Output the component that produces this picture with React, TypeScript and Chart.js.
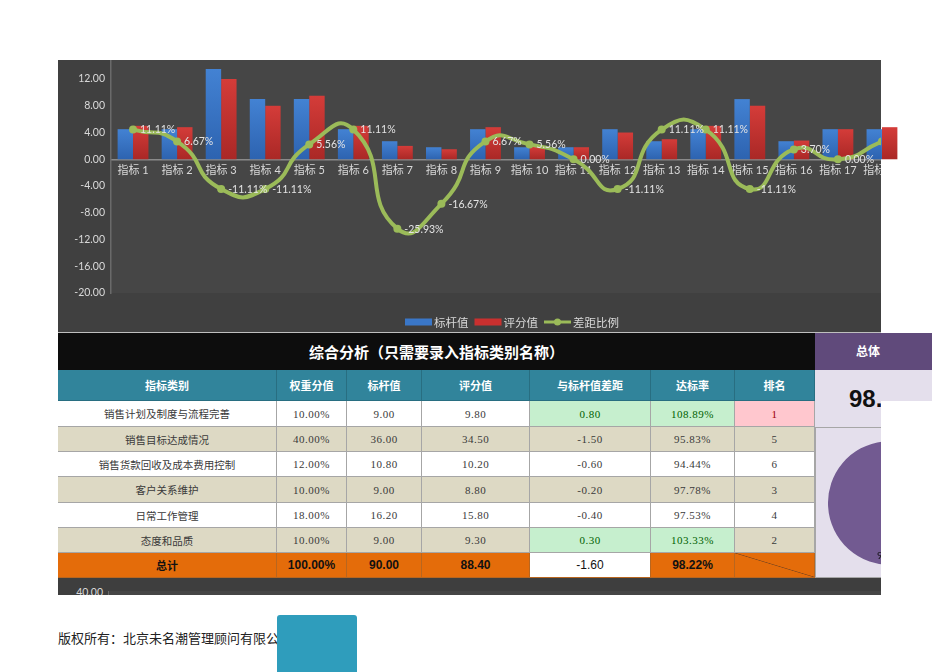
import React, { useEffect, useRef } from "react";
import { Chart, registerables } from "chart.js";

Chart.register(...registerables);

// ---------- chart data ----------
const categories = [
  "指标 1", "指标 2", "指标 3", "指标 4", "指标 5", "指标 6", "指标 7", "指标 8", "指标 9",
  "指标 10", "指标 11", "指标 12", "指标 13", "指标 14", "指标 15", "指标 16", "指标 17", "指标 18",
];
const benchmarkValues = [4.5, 4.5, 13.5, 9.0, 9.0, 4.5, 2.7, 1.8, 4.5, 1.8, 1.8, 4.5, 2.7, 4.5, 9.0, 2.7, 4.5, 4.5];
const scoreValues = [5.0, 4.8, 12.0, 8.0, 9.5, 5.0, 2.0, 1.5, 4.8, 1.9, 1.8, 4.0, 3.0, 5.0, 8.0, 2.8, 4.5, 4.8];
const gapRatios = [11.11, 6.67, -11.11, -11.11, 5.56, 11.11, -25.93, -16.67, 6.67, 5.56, 0.0, -11.11, 11.11, 11.11, -11.11, 3.7, 0.0, 6.67];
const seriesNames = ["标杆值", "评分值", "差距比例"];
const yAxisMin = -20;
const yAxisMax = 16;
const yAxisStep = 4;
const y2AxisMin = -50;
const y2AxisMax = 40;

// ---------- table data ----------
const tableTitle = "综合分析（只需要录入指标类别名称）";
const tableHeaders = ["指标类别", "权重分值", "标杆值", "评分值", "与标杆值差距", "达标率", "排名"];
const tableCategories = ["销售计划及制度与流程完善", "销售目标达成情况", "销售货款回收及成本费用控制", "客户关系维护", "日常工作管理", "态度和品质"];
const tableWeights = ["10.00%", "40.00%", "12.00%", "10.00%", "18.00%", "10.00%"];
const tableBenchmarks = ["9.00", "36.00", "10.80", "9.00", "16.20", "9.00"];
const tableScores = ["9.80", "34.50", "10.20", "8.80", "15.80", "9.30"];
const tableGaps = ["0.80", "-1.50", "-0.60", "-0.20", "-0.40", "0.30"];
const tableRates = ["108.89%", "95.83%", "94.44%", "97.78%", "97.53%", "103.33%"];
const tableRanks = ["1", "5", "6", "3", "4", "2"];
const totalRow = ["总计", "100.00%", "90.00", "88.40", "-1.60", "98.22%", ""];
const overallLabel = "总体";
const overallRate = 98.22;
const nextChartTick = "40.00";
const footerText = "版权所有：北京未名潮管理顾问有限公司";

// ---------- styles ----------
const FONT = "Lato, 'Noto Sans CJK SC', sans-serif";
const CJK = "'Noto Sans CJK SC', sans-serif";
const SERIF = "'Liberation Serif', 'Noto Sans CJK SC', serif";
const SANS = "'Liberation Sans', 'Noto Sans CJK SC', sans-serif";
const BLUE = "#3a77c8";
const RED = "#c9302f";
const GREEN = "#9bbb59";
const LABEL = "#d9d9d9";
const PANEL_W = 823; // visible width of the dark chart panel

function barGradient(top: string, bottom: string) {
  return (c: any) => {
    const chart = c.chart;
    const ys = chart.scales && chart.scales.y;
    if (!chart.chartArea || !ys || c.raw == null) return top;
    const yTop = ys.getPixelForValue(c.raw);
    const yZero = ys.getPixelForValue(0);
    if (!isFinite(yTop) || !isFinite(yZero) || yTop === yZero) return top;
    const g = chart.ctx.createLinearGradient(0, yTop, 0, yZero);
    g.addColorStop(0, top);
    g.addColorStop(1, bottom);
    return g;
  };
}

const bgPlugin = {
  id: "bgPlugin",
  beforeDraw(chart: any) {
    const { ctx, chartArea } = chart;
    ctx.save();
    ctx.fillStyle = "#404040";
    ctx.fillRect(0, 0, PANEL_W, chart.height);
    ctx.fillStyle = "#464646";
    ctx.fillRect(chartArea.left, 0, PANEL_W - chartArea.left, chartArea.bottom);
    ctx.restore();
    // clip the scales (drawn next) to the panel
    ctx.save();
    ctx.beginPath();
    ctx.rect(0, 0, PANEL_W, chart.height);
    ctx.clip();
  },
  beforeDatasetsDraw(chart: any) {
    chart.ctx.restore();
  },
};

const pointLabelPlugin = {
  id: "pointLabelPlugin",
  afterDatasetsDraw(chart: any) {
    const ctx = chart.ctx;
    const meta = chart.getDatasetMeta(2);
    const data = chart.data.datasets[2].data as number[];
    ctx.save();
    ctx.beginPath();
    ctx.rect(0, 0, PANEL_W, chart.height);
    ctx.clip();
    ctx.font = `10.5px ${FONT}`;
    ctx.fillStyle = "#e4e4e4";
    ctx.textAlign = "left";
    ctx.textBaseline = "middle";
    meta.data.forEach((pt: any, i: number) => {
      ctx.fillText(`${data[i].toFixed(2)}%`, pt.x + 7, pt.y + 0.5);
    });
    ctx.restore();
  },
};

const legendColors = [BLUE, RED, GREEN];
const legendPlugin = {
  id: "legendPlugin",
  afterDraw(chart: any) {
    const ctx = chart.ctx;
    const items = chart.data.datasets.map((ds: any, i: number) => ({ label: ds.label, type: ds.type, color: legendColors[i] }));
    ctx.save();
    ctx.font = `11.5px ${CJK}`;
    const sw = 27;
    const gapText = 2;
    const gapItem = 6;
    const widths = items.map((it: any) => sw + gapText + ctx.measureText(it.label).width);
    const total = widths.reduce((a: number, b: number) => a + b, 0) + gapItem * (items.length - 1);
    let x = 454 - total / 2;
    const y = 282;
    items.forEach((it: any, i: number) => {
      if (it.type === "line") {
        ctx.strokeStyle = it.color;
        ctx.lineWidth = 3;
        ctx.beginPath();
        ctx.moveTo(x, y);
        ctx.lineTo(x + sw, y);
        ctx.stroke();
        ctx.fillStyle = it.color;
        ctx.beginPath();
        ctx.arc(x + sw / 2, y, 3.5, 0, Math.PI * 2);
        ctx.fill();
      } else {
        ctx.fillStyle = it.color;
        ctx.fillRect(x, y - 3.5, sw, 7);
      }
      ctx.fillStyle = LABEL;
      ctx.textAlign = "left";
      ctx.textBaseline = "middle";
      ctx.fillText(it.label, x + sw + gapText, y + 0.5);
      x += widths[i] + gapItem;
    });
    ctx.restore();
  },
};

function ComboChart() {
  const ref = useRef<HTMLCanvasElement>(null);
  useEffect(() => {
    const chart = new Chart(ref.current as HTMLCanvasElement, {
      type: "bar",
      data: {
        labels: categories,
        datasets: [
          {
            type: "bar",
            label: seriesNames[0],
            data: benchmarkValues,
            backgroundColor: barGradient("#4382d3", "#2d63b0"),
            yAxisID: "y",
            order: 2,
            categoryPercentage: 0.7,
            barPercentage: 1,
            clip: false,
          },
          {
            type: "bar",
            label: seriesNames[1],
            data: scoreValues,
            backgroundColor: barGradient("#d43c39", "#aa2826"),
            yAxisID: "y",
            order: 2,
            categoryPercentage: 0.7,
            barPercentage: 1,
            clip: false,
          },
          {
            type: "line",
            label: seriesNames[2],
            data: gapRatios,
            yAxisID: "y2",
            borderColor: GREEN,
            backgroundColor: GREEN,
            borderWidth: 4,
            pointRadius: 4,
            pointBorderWidth: 0,
            pointBackgroundColor: GREEN,
            pointBorderColor: GREEN,
            tension: 0.6,
            order: 0,
            clip: { left: 0, top: 20, right: -23, bottom: 0 },
          },
        ] as any,
      },
      options: {
        responsive: false,
        maintainAspectRatio: false,
        animation: false,
        layout: { padding: { top: 11, right: 62, bottom: 40, left: 0 } },
        plugins: { legend: { display: false }, tooltip: { enabled: false } },
        scales: {
          x: {
            position: { y: 0 } as any,
            grid: { display: false, drawTicks: false },
            border: { display: true, color: "#8a8a8a", width: 1.5 },
            ticks: { color: LABEL, font: { family: FONT, size: 11 }, padding: 5, maxRotation: 0, autoSkip: false },
          },
          y: {
            min: yAxisMin,
            max: yAxisMax,
            grid: { display: false, drawTicks: false },
            border: { display: true, color: "#6a6a6a", width: 1.5 },
            ticks: {
              stepSize: yAxisStep,
              color: LABEL,
              font: { family: FONT, size: 10.5 },
              padding: 6,
              callback: (v: any) => Number(v).toFixed(2),
            },
            afterFit: (s: any) => {
              s.width = 53;
            },
          },
          y2: { display: false, min: y2AxisMin, max: y2AxisMax },
        },
      } as any,
      plugins: [bgPlugin, pointLabelPlugin, legendPlugin],
    });
    return () => chart.destroy();
  }, []);
  return (
    <div style={{ position: "absolute", left: 58, top: 60, width: 840, height: 272, overflow: "hidden" }}>
      <canvas ref={ref} width={908} height={293} style={{ position: "absolute", left: 0, top: -20, width: 908, height: 293 }} />
    </div>
  );
}

const pieLabelPlugin = {
  id: "pieLabelPlugin",
  afterDraw(chart: any) {
    const ctx = chart.ctx;
    ctx.save();
    ctx.font = `10px ${FONT}`;
    ctx.fillStyle = "#111";
    ctx.textAlign = "left";
    ctx.textBaseline = "middle";
    ctx.fillText(`${chart.data.datasets[0].data[0].toFixed(2)}%`, 49, 115);
    ctx.restore();
  },
};

function PieChart() {
  const ref = useRef<HTMLCanvasElement>(null);
  useEffect(() => {
    const chart = new Chart(ref.current as HTMLCanvasElement, {
      type: "pie",
      data: {
        labels: ["达标", "未达标"],
        datasets: [{ data: [overallRate, 100 - overallRate], backgroundColor: ["#725a91", "#b7a9cc"], borderWidth: 0 }],
      },
      options: {
        responsive: false,
        maintainAspectRatio: false,
        animation: false,
        layout: { padding: 0 },
        plugins: { legend: { display: false }, tooltip: { enabled: false } },
      } as any,
      plugins: [pieLabelPlugin],
    });
    return () => chart.destroy();
  }, []);
  return (
    <div style={{ position: "absolute", left: 815, top: 427, width: 66, height: 151, overflow: "hidden", background: "#e4dfec", boxSizing: "border-box", borderTop: "1px solid #a6a6a6", borderLeft: "1px solid #a6a6a6", borderBottom: "1px solid #a6a6a6" }}>
      <canvas ref={ref} width={124} height={124} style={{ position: "absolute", left: 12, top: 13, width: 124, height: 124 }} />
    </div>
  );
}

const COLS = [58, 277, 347, 422, 530, 651, 735, 815];
const ROWS = [401, 427, 452, 477, 503, 528, 553, 578];

function Cell(props: { c: number; r0: number; r1: number; bg: string; border?: string; style?: any; children?: any }) {
  const { c, r0, r1, bg, border = "#a6a6a6", style, children } = props;
  return (
    <div
      style={{
        position: "absolute",
        left: COLS[c],
        top: r0,
        width: COLS[c + 1] - COLS[c],
        height: r1 - r0,
        boxSizing: "border-box",
        background: bg,
        borderRight: `1px solid ${border}`,
        borderBottom: `1px solid ${border}`,
        display: "flex",
        alignItems: "center",
        justifyContent: "center",
        whiteSpace: "nowrap",
        overflow: "hidden",
        ...style,
      }}
    >
      {children}
    </div>
  );
}

function Table() {
  const cells: any[] = [];
  tableHeaders.forEach((h, c) => {
    cells.push(
      <Cell key={`h${c}`} c={c} r0={370} r1={401} bg="#31849b" border="#286e81" style={{ color: "#fff", font: `bold 11px ${CJK}` }}>
        {h}
      </Cell>
    );
  });
  const numStyle = { color: "#3a3a3a", font: `11px ${SERIF}`, letterSpacing: "0.5px" };
  tableCategories.forEach((name, i) => {
    const r0 = ROWS[i];
    const r1 = ROWS[i + 1];
    const bg = i % 2 === 0 ? "#ffffff" : "#ddd9c4";
    const positive = parseFloat(tableGaps[i]) > 0;
    const gbg = positive ? "#c6efce" : bg;
    const gcol = positive ? { color: "#006100" } : {};
    const first = tableRanks[i] === "1";
    const values = [tableWeights[i], tableBenchmarks[i], tableScores[i], tableGaps[i], tableRates[i], tableRanks[i]];
    cells.push(
      <Cell key={`c${i}`} c={0} r0={r0} r1={r1} bg={bg} style={{ color: "#3a3a3a", font: `10.5px ${CJK}` }}>
        {name}
      </Cell>
    );
    values.forEach((v, k) => {
      const c = k + 1;
      let cbg = bg;
      let extra: any = {};
      if (c === 4 || c === 5) {
        cbg = gbg;
        extra = gcol;
      }
      if (c === 6 && first) {
        cbg = "#ffc7ce";
        extra = { color: "#9c0006" };
      }
      cells.push(
        <Cell key={`v${i}-${c}`} c={c} r0={r0} r1={r1} bg={cbg} style={{ ...numStyle, ...extra }}>
          {v}
        </Cell>
      );
    });
  });
  totalRow.forEach((v, c) => {
    const white = c === 4;
    const style: any = white
      ? { color: "#111", font: `12px ${SANS}` }
      : c === 0
      ? { color: "#111", font: `bold 11px ${CJK}` }
      : { color: "#111", font: `bold 12px ${SANS}` };
    if (c === 6) {
      style.background = "linear-gradient(to top right, #e46c0a calc(50% - 0.7px), #8a4a1a 50%, #e46c0a calc(50% + 0.7px))";
    }
    cells.push(
      <Cell key={`t${c}`} c={c} r0={553} r1={578} bg={white ? "#ffffff" : "#e46c0a"} border="#b8661f" style={style}>
        {v}
      </Cell>
    );
  });
  return (
    <>
      <div style={{ position: "absolute", left: 58, top: 332, width: 823, height: 1, background: "#bfbfbf" }} />
      <div
        style={{
          position: "absolute",
          left: 58,
          top: 333,
          width: 757,
          height: 37,
          background: "#0d0d0d",
          color: "#fff",
          font: `bold 15px ${CJK}`,
          display: "flex",
          alignItems: "center",
          justifyContent: "center",
          whiteSpace: "nowrap",
        }}
      >
        {tableTitle}
      </div>
      {cells}
      {/* overall block */}
      <div style={{ position: "absolute", left: 815, top: 333, width: 117, height: 37, background: "#604a7b" }} />
      <div style={{ position: "absolute", left: 856, top: 342, color: "#fff", font: `bold 12px ${CJK}`, lineHeight: "18px", whiteSpace: "nowrap" }}>
        {overallLabel}
      </div>
      <div style={{ position: "absolute", left: 815, top: 370, width: 117, height: 31, background: "#e4dfec" }} />
      <div style={{ position: "absolute", left: 815, top: 401, width: 66, height: 27, background: "#e4dfec" }} />
      <div style={{ position: "absolute", left: 815, top: 370, width: 66, height: 57, overflow: "hidden" }}>
        <div style={{ position: "absolute", left: 34, top: 17, color: "#111", font: `bold 24px ${SANS}`, lineHeight: "24px", whiteSpace: "nowrap" }}>
          {`${overallRate.toFixed(2)}%`}
        </div>
      </div>
    </>
  );
}

function BottomStrip() {
  return (
    <div style={{ position: "absolute", left: 58, top: 578, width: 823, height: 17, background: "#3e3e3e", overflow: "hidden" }}>
      <div style={{ position: "absolute", left: 50, top: 13, width: 773, height: 4, background: "#454545" }} />
      <div style={{ position: "absolute", left: 50, top: 13, width: 1, height: 4, background: "#6a6a6a" }} />
      <div style={{ position: "absolute", left: 0, top: 7, width: 45, textAlign: "right", color: LABEL, font: `10.5px ${FONT}`, lineHeight: "14px" }}>
        {nextChartTick}
      </div>
    </div>
  );
}

export default function App() {
  return (
    <div style={{ position: "absolute", left: 0, top: 0, width: 950, height: 672, background: "#fff", overflow: "hidden" }}>
      <ComboChart />
      <Table />
      <PieChart />
      <BottomStrip />
      <div style={{ position: "absolute", left: 58, top: 630, color: "#222", font: `13px ${SERIF}`, lineHeight: "18px", whiteSpace: "nowrap" }}>
        {footerText}
      </div>
      <div style={{ position: "absolute", left: 277, top: 615, width: 80, height: 57, background: "#2f9dbc", borderRadius: "3px 3px 0 0" }} />
    </div>
  );
}
